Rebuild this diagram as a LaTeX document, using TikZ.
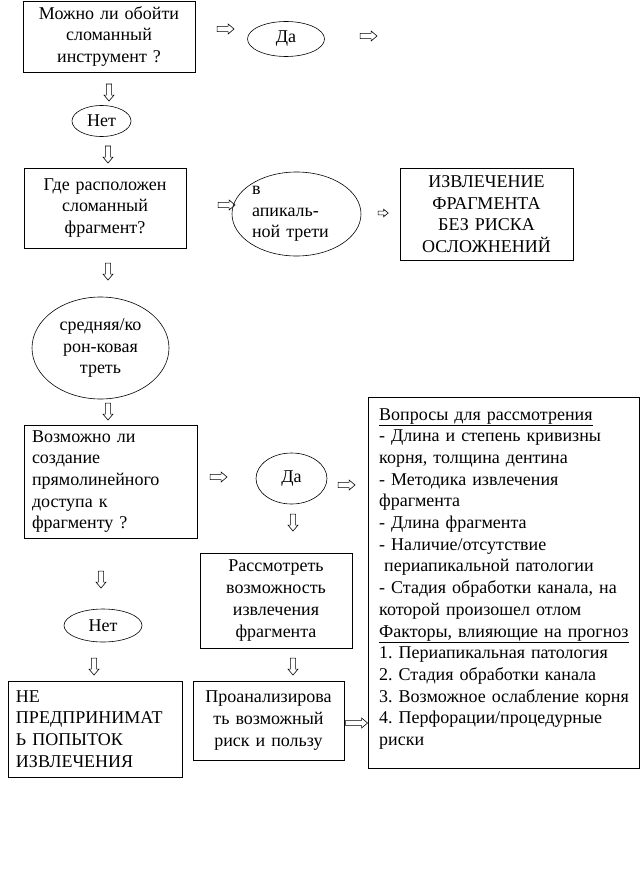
\documentclass[tikz,border=0pt]{standalone}
\usepackage{fontspec}
\setmainfont{Liberation Serif}
\usepackage{tikz}
\usetikzlibrary{positioning,shapes.geometric,shapes.arrows}
\frenchspacing

\begin{document}
\begin{tikzpicture}[x=1pt,y=-1pt,font=\fontsize{18pt}{21.7pt}\selectfont,
  box/.style={draw,line width=0.8pt,inner sep=0pt,align=center},
  oval/.style={draw,ellipse,line width=0.6pt,inner sep=0pt,align=center},
  rarr/.style={draw,single arrow,line width=0.6pt,inner xsep=0pt,inner ysep=2.3pt,
    single arrow head extend=2.4pt,single arrow tip angle=80,minimum height=17pt},
  darr/.style={rarr,rotate=-90}]
 \useasboundingbox (0,0) rectangle (643,888);
 % ---- top row ----
 \node[box,minimum width=172,minimum height=71,text width=166] (bypass) at (109,36.5)
      {Можно ли обойти\\сломанный\\инструмент ?};
 \node[rarr] (a1) at (224,29) {};
 \node[oval,minimum width=77,minimum height=35] (yes1) at (286,39) {Да};
 \node[rarr] (a2) at (367,36) {};
 \node[darr] (a3) at (109,91) {};
 \node[oval,minimum width=59,minimum height=31] (no1) at (101.5,121) {Нет};
 \node[darr] (a4) at (108,153) {};
 % ---- where is the fragment ----
 \node[box,minimum width=162,minimum height=80,text width=156] (where) at (105,208)
      {Где расположен\\сломанный\\фрагмент?};
 \node[rarr] (a5) at (225,205) {};
 \node[oval,minimum width=129,minimum height=84,text width=89,align=left] (apical) at (296.5,214)
      {в\\апикаль-\\ной трети};
 \node[rarr,minimum height=10pt,inner ysep=1.6pt,single arrow head extend=1.8pt] (a6) at (382,213) {};
 \node[box,minimum width=173,minimum height=92,text width=167] (easy) at (486.5,214)
      {ИЗВЛЕЧЕНИЕ\\ФРАГМЕНТА\\БЕЗ РИСКА\\ОСЛОЖНЕНИЙ};
 \node[darr] (a7) at (108,270) {};
 \node[oval,minimum width=137,minimum height=102] (middle) at (100.5,348)
      {средняя/ко\\рон-ковая\\треть};
 \node[darr] (a8) at (108,410) {};
 % ---- straight access ----
 \node[box,minimum width=173,minimum height=113,text width=157,align=left] (access) at (110.5,481.5)
      {Возможно ли\\создание\\прямолинейного\\доступа к\\фрагменту ?};
 \node[rarr] (a9) at (217,477) {};
 \node[oval,minimum width=71,minimum height=51] (yes2) at (291.5,478.5) {Да};
 \node[rarr] (a10) at (345,485) {};
 \node[darr] (a11) at (293,521) {};
 \node[box,minimum width=152,minimum height=95,text width=148] (consider) at (276,600.5)
      {Рассмотреть\\возможность\\извлечения\\фрагмента};
 \node[darr] (a14) at (293,665) {};
 \node[box,minimum width=151,minimum height=79,text width=147] (weigh) at (268.5,720.5)
      {Проанализирова\\ть возможный\\риск и пользу};
 \node[rarr,minimum height=22pt] (a15) at (355,723) {};
 % ---- no access ----
 \node[darr] (a12) at (101,578) {};
 \node[oval,minimum width=78,minimum height=33] (no2) at (103,625.5) {Нет};
 \node[darr] (a13) at (94,665) {};
 \node[box,minimum width=174,minimum height=96,text width=158,align=left] (stop) at (95,729)
      {НЕ\\ПРЕДПРИНИМАТ\\Ь ПОПЫТОК\\ИЗВЛЕЧЕНИЯ};
 % ---- questions and factors ----
 \node[draw,line width=0.8pt,minimum width=271,minimum height=371] (rbox) at (503.5,582.5) {};
 \node[anchor=base west,inner sep=0pt,text width=256,align=left] (rtext) at (379,420)
      {\underline{Вопросы для рассмотрения}\\
       - Длина и степень кривизны\\
       корня, толщина дентина\\
       - Методика извлечения\\
       фрагмента\\
       - Длина фрагмента\\
       - Наличие/отсутствие\\
       \hspace*{5pt}периапикальной патологии\\
       - Стадия обработки канала, на\\
       которой произошел отлом\\
       \underline{Факторы, влияющие на прогноз}\\
       1. Периапикальная патология\\
       2. Стадия обработки канала\\
       3. Возможное ослабление корня\\
       4. Перфорации/процедурные\\
       риски};
\end{tikzpicture}
\end{document}
